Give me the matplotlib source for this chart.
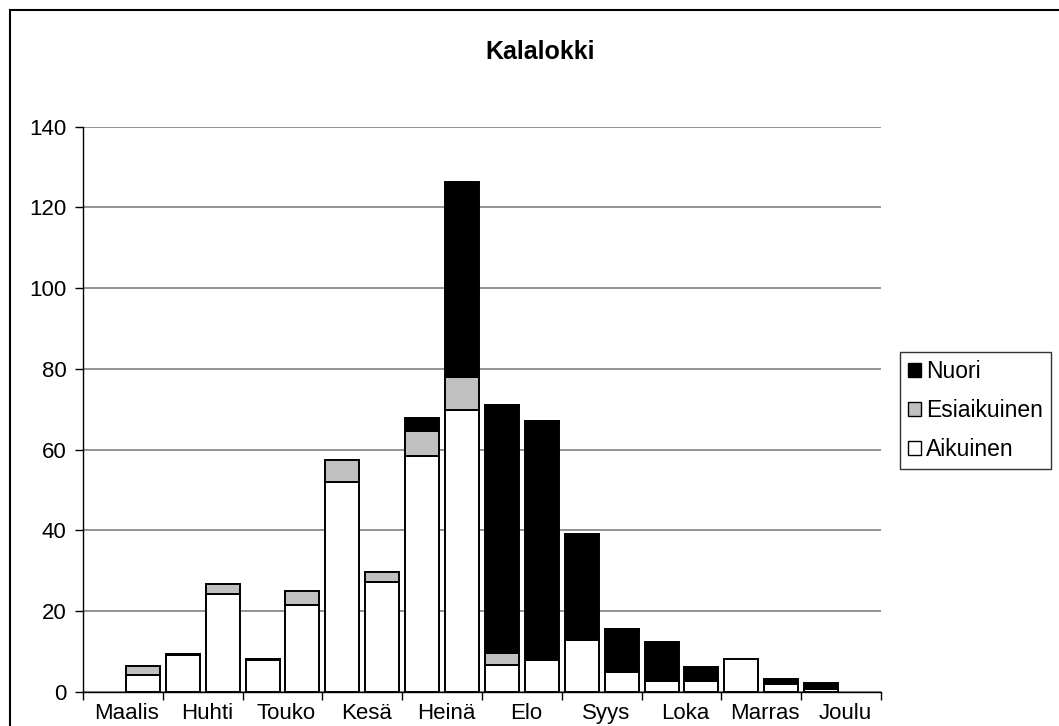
import matplotlib.pyplot as plt
from matplotlib.patches import Rectangle, Patch
import matplotlib.transforms as mtransforms

# Kuukaudet (kaksi puolikuukautta per kuukausi)
kuukaudet = ["Maalis", "Huhti", "Touko", "Kesä", "Heinä",
             "Elo", "Syys", "Loka", "Marras", "Joulu"]

# Arvot puolikuukausittain (20 jaksoa)
aikuinen = [0, 4.1, 9.0, 24.2, 7.8, 21.5, 51.9, 27.1, 58.3, 69.9,
            6.6, 7.9, 12.7, 4.9, 2.7, 2.7, 8.2, 2.0, 0.7, 0]
esiaikuinen = [0, 2.3, 0, 2.5, 0, 3.5, 5.6, 2.6, 6.4, 8.1,
               3.1, 0, 0, 0, 0, 0, 0, 0, 0, 0]
nuori = [0, 0, 0.4, 0, 0.4, 0, 0, 0, 3.2, 48.3,
         61.3, 59.3, 26.3, 10.7, 9.6, 3.4, 0, 1.1, 1.5, 0]


def plot_chart():
    plt.rcParams["font.family"] = ["Liberation Sans", "DejaVu Sans"]
    fig = plt.figure(figsize=(10.59, 7.26), dpi=100)
    W, H = 1059, 726
    ax = fig.add_axes([83 / W, 1 - 691.7 / H, (881 - 83) / W, (691.7 - 126.7) / H])

    x = list(range(len(aikuinen)))
    pohja2 = [a + e for a, e in zip(aikuinen, esiaikuinen)]
    lw = 1.4
    sarjat = [(aikuinen, [0] * len(x), "white"),
              (esiaikuinen, aikuinen, "#c0c0c0"),
              (nuori, pohja2, "black")]
    for vals, pohja, vari in sarjat:
        xs = [i for i, v in zip(x, vals) if v > 0]
        hs = [v for v in vals if v > 0]
        bs = [p for p, v in zip(pohja, vals) if v > 0]
        ax.bar(xs, hs, width=0.85, bottom=bs, color=vari, edgecolor="black",
               linewidth=lw, zorder=3)

    ax.set_xlim(-0.5, 19.5)
    ax.set_ylim(0, 140)
    ax.set_yticks(range(0, 141, 20))
    ax.yaxis.grid(True, color="#808080", linewidth=1.2, zorder=0)
    ax.set_axisbelow(True)

    ax.set_xticks([i * 2 + 0.5 for i in range(10)])
    ax.set_xticklabels(kuukaudet)
    ax.set_xticks([i * 2 - 0.5 for i in range(11)], minor=True)
    ax.tick_params(axis="x", which="major", length=0, labelsize=16, pad=8)
    ax.tick_params(axis="x", which="minor", length=6, width=1, direction="out")
    ax.tick_params(axis="y", length=6, width=1, direction="out", labelsize=16, pad=6)
    siirto = mtransforms.ScaledTranslation(4 / 100, 0, fig.dpi_scale_trans)
    for lab in ax.get_xticklabels():
        lab.set_transform(lab.get_transform() + siirto)

    for s in ("top", "right"):
        ax.spines[s].set_visible(False)
    for s in ("left", "bottom"):
        ax.spines[s].set_color("black")
        ax.spines[s].set_linewidth(1)

    fig.text(540 / W, 1 - 52 / H, "Kalalokki", ha="center", va="center",
             fontsize=18, fontweight="bold")

    handles = [Patch(facecolor=c, edgecolor="black", linewidth=1)
               for c in ("black", "#c0c0c0", "white")]
    leg = fig.legend(handles, ["Nuori", "Esiaikuinen", "Aikuinen"],
                     loc="upper left", bbox_to_anchor=(900 / W, 1 - 352 / H),
                     fontsize=16.5, frameon=True, fancybox=False, edgecolor="black",
                     handlelength=0.55, handleheight=0.55, handletextpad=0.25,
                     labelspacing=0.7, borderpad=0.35, borderaxespad=0)
    leg.get_frame().set_linewidth(1)

    # ulkokehys
    fig.patches.append(Rectangle((10 / W, -0.05), 1.1, 1 - 10 / H + 0.05,
                                 transform=fig.transFigure, fill=False,
                                 edgecolor="black", linewidth=1.5))

    plt.savefig("out.png", dpi=100)


if __name__ == "__main__":
    plot_chart()
